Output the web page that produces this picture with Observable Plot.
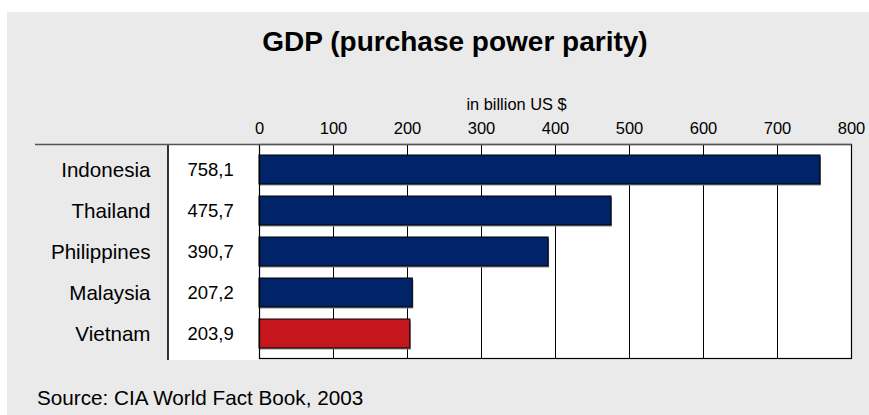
<!DOCTYPE html>
<html>
<head>
<meta charset="utf-8">
<script src="https://cdn.jsdelivr.net/npm/d3@7"></script>
<script src="https://cdn.jsdelivr.net/npm/@observablehq/plot@0.6"></script>
<style>
  html, body { margin: 0; padding: 0; background: #ffffff; }
  body { width: 869px; height: 415px; position: relative; overflow: hidden;
         font-family: "Liberation Sans", Arial, sans-serif; color: #000; }
  #panel { position: absolute; left: 7px; top: 12px; width: 862px; height: 403px; background: #eaeaea; }
  .t { position: absolute; white-space: nowrap; line-height: 1; }
  #title { font-weight: bold; font-size: 28px; top: 28px; left: 455px; transform: translateX(-50%); }
  #subtitle { font-size: 16.4px; top: 95.6px; left: 516.5px; transform: translateX(-50%); }
  #source { font-size: 20.7px; top: 387.5px; left: 37px; }
  #chart { position: absolute; left: 0; top: 110px; }
</style>
</head>
<body>
<div id="panel"></div>
<div class="t" id="title">GDP (purchase power parity)</div>
<div class="t" id="subtitle">in billion US $</div>
<div id="chart"></div>
<div class="t" id="source">Source: CIA World Fact Book, 2003</div>
<script>
const countries = ["Indonesia", "Thailand", "Philippines", "Malaysia", "Vietnam"];
const gdp = [758.1, 475.7, 390.7, 207.2, 203.9];
const barColors = ["#002467", "#002467", "#002467", "#002467", "#c4161c"];
const xTicks = [0, 100, 200, 300, 400, 500, 600, 700, 800];

const data = countries.map((c, i) => ({ country: c, gdp: gdp[i], color: barColors[i] }));
const fmt = v => v.toFixed(1).replace(".", ",");

const columnLeft = 168;

const decor = (index, scales, values, dims) => {
  const g = d3.create("svg:g");
  g.append("rect")
    .attr("x", columnLeft)
    .attr("y", dims.marginTop)
    .attr("width", dims.marginLeft - columnLeft)
    .attr("height", dims.height - dims.marginTop - dims.marginBottom + 2)
    .attr("fill", "white");
  g.append("line")
    .attr("x1", columnLeft).attr("x2", columnLeft)
    .attr("y1", dims.marginTop).attr("y2", dims.height - dims.marginBottom + 2)
    .attr("stroke", "black").attr("stroke-width", 1.6);
  return g.node();
};

const topLine = (index, scales, values, dims) =>
  d3.create("svg:line")
    .attr("x1", 35).attr("x2", dims.width - dims.marginRight + 0.5)
    .attr("y1", dims.marginTop + 0.5).attr("y2", dims.marginTop + 0.5)
    .attr("stroke", "#555").attr("stroke-width", 1.3)
    .node();

const chart = Plot.plot({
  width: 869,
  height: 260,
  marginTop: 34,
  marginBottom: 12,
  marginLeft: 259,
  marginRight: 18,
  style: { background: "transparent", fontFamily: "'Liberation Sans', Arial, sans-serif", color: "#000", overflow: "visible" },
  x: { domain: [0, 800], label: null },
  y: { domain: countries, paddingInner: 0.3, paddingOuter: 0.25, axis: null },
  color: { type: "identity" },
  marks: [
    decor,
    Plot.frame({ fill: "white" }),
    Plot.gridX(xTicks.slice(1, -1), { stroke: "black", strokeOpacity: 1, strokeWidth: 1 }),
    Plot.barX(data, { x: "gdp", y: "country", fill: "#8a8a8a", dx: 1, dy: 1.5 }),
    Plot.barX(data, { x: "gdp", y: "country", fill: "color", stroke: "black", strokeWidth: 1 }),
    Plot.text(data, { y: "country", text: "country", frameAnchor: "left", dx: -109, textAnchor: "end", fontSize: 20.6, fill: "#000" }),
    Plot.text(data, { y: "country", text: d => fmt(d.gdp), frameAnchor: "left", dx: -72, textAnchor: "start", fontSize: 18.5, fill: "#000" }),
    Plot.frame({ stroke: "black", strokeWidth: 1.2 }),
    topLine,
    Plot.axisX(xTicks, { anchor: "top", label: null, tickSize: 0, tickPadding: 10.5, fontSize: 16.5, tickFormat: d => String(d), fill: "#000" })
  ]
});

document.getElementById("chart").appendChild(chart);
</script>
</body>
</html>
